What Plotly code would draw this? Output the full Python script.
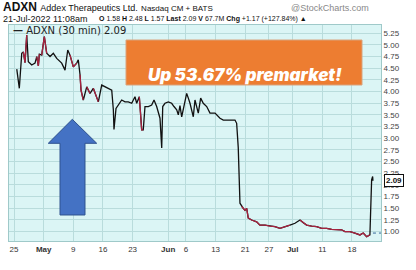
import plotly.graph_objects as go

# ---- data (x = trading-day index from 25-Apr-2022, y = price) ----
days = [0.46, 0.89, 1.30, 1.57, 1.85, 2.14, 2.41, 2.98, 3.54, 3.83, 4.10, 4.27, 4.67, 5.11, 5.51,
        6.07, 6.63, 7.20, 8.04, 8.60, 9.06, 9.44, 10.00, 10.57, 10.84, 11.13, 11.30, 11.59, 11.69,
        12.26, 12.82, 13.37, 13.95, 14.22, 14.79, 15.35, 15.90, 16.48, 16.75, 16.86, 17.20, 17.59,
        18.16, 18.72, 19.27, 19.85, 20.40, 20.69, 21.13, 21.33, 21.53, 21.80, 22.09, 22.65, 23.22,
        23.61, 24.06, 24.62, 24.91, 25.08, 25.46, 26.02, 26.59, 26.98, 27.44, 27.71, 27.99, 28.28,
        28.84, 29.12, 29.43, 29.68, 30.24, 30.52, 31.08, 31.48, 31.92, 32.50, 33.05, 33.90, 34.74,
        35.30, 36.14, 37.27, 37.55, 37.82, 38.11, 38.40, 38.67, 38.95, 39.24, 39.51, 40.08, 40.93,
        41.48, 42.33, 43.17, 44.01, 44.86, 45.41, 45.99, 46.54, 47.39, 48.23, 48.79, 49.36, 50.20,
        51.05, 51.89, 52.73, 53.58, 54.42, 55.26, 55.82, 56.66, 57.50, 58.35, 58.90, 59.48, 60.03,
        60.32, 60.49, 60.54]
prices = [4.48, 4.07, 4.82, 4.85, 4.62, 5.21, 4.64, 4.57, 4.61, 4.75, 4.55, 4.80, 4.78, 5.18, 4.82,
          4.75, 4.82, 4.71, 4.61, 4.46, 4.89, 4.78, 4.53, 4.61, 4.68, 4.36, 4.03, 3.86, 3.82,
          4.10, 3.96, 4.07, 3.89, 3.78, 4.14, 4.10, 4.07, 4.03, 3.61, 3.19, 3.64, 3.71,
          3.82, 3.78, 3.78, 3.75, 3.89, 3.75, 3.89, 3.55, 3.18, 3.18, 3.68, 3.68, 3.71,
          3.82, 3.68, 3.43, 2.79, 3.68, 3.75, 3.78, 3.75, 3.68, 3.61, 3.50, 3.70, 3.46,
          3.82, 3.96, 3.85, 3.75, 3.46, 3.82, 3.54, 3.86, 3.75, 3.68, 3.54, 3.54, 3.43,
          3.39, 3.39, 3.39, 3.32, 2.80, 1.61, 1.54, 1.50, 1.46, 1.50, 1.29, 1.25, 1.21,
          1.14, 1.14, 1.12, 1.11, 1.07, 1.09, 1.11, 1.14, 1.18, 1.25, 1.19, 1.14, 1.12,
          1.11, 1.07, 1.07, 1.05, 1.04, 1.04, 1.00, 1.00, 0.97, 0.93, 0.97, 0.89, 0.93,
          2.11, 2.18, 2.09]
# stretches (first point index, last point index) drawn red (falling price colouring)
red_runs = [(3, 5), (9, 11), (12, 14), (21, 23), (25, 28), (29, 30), (31, 33), (48, 51),
            (87, 101), (103, 119)]
last_price = 2.09
ref_level = 0.97

tick_days = [0, 5, 10, 15, 20, 26, 29, 34, 39, 43, 47, 52, 57]
tick_text = ["25", "<b>May</b>", "9", "16", "23", "<b>Jun</b>", "6", "13", "21", "27", "<b>Jul</b>", "11", "18"]
y_ticks = [1.00, 1.25, 1.50, 1.75, 2.00, 2.25, 2.50, 2.75, 3.00, 3.25, 3.50, 3.75, 4.00, 4.25,
           4.50, 4.75, 5.00, 5.25]

W, H = 416, 270
L, R, T, B = 9, 381, 25, 241


def px(x):
    return (x - L) / (R - L)


def py(y):
    return (B - y) / (B - T)


fig = go.Figure()
fig.add_trace(go.Scatter(x=days, y=prices, mode="lines",
                         line=dict(color="#111111", width=1.3), hoverinfo="skip"))
rx, ry = [], []
for a, b in red_runs:
    rx += days[a:b + 1] + [None]
    ry += prices[a:b + 1] + [None]
fig.add_trace(go.Scatter(x=rx, y=ry, mode="lines",
                         line=dict(color="#a8223f", width=1.3), hoverinfo="skip"))

font = "Liberation Sans, Arial, sans-serif"
grid = "#b9dcdc"
fig.update_layout(
    width=W, height=H, margin=dict(l=L, r=W - R, t=T, b=H - B),
    paper_bgcolor="white", plot_bgcolor="#dbf5f5", showlegend=False,
    font=dict(family=font, size=8, color="#333333"),
    xaxis=dict(range=[-0.85, 61.9], tickmode="array", tickvals=tick_days, ticktext=tick_text,
               showgrid=True, gridcolor=grid, gridwidth=1, zeroline=False, ticks="",
               tickfont=dict(size=8, color="#333333"), showline=True, linecolor="#9fc9c9",
               mirror=True),
    yaxis=dict(range=[0.80, 5.426], side="right", tickmode="array", tickvals=y_ticks,
               tickformat=".2f", showgrid=True, gridcolor=grid, gridwidth=1, zeroline=False,
               ticks="", tickfont=dict(size=8, color="#444444"), showline=True,
               linecolor="#9fc9c9", mirror=True),
)

# dotted reference line and last-price tag
fig.add_shape(type="line", xref="x", yref="y", x0=days[-1], x1=61.9, y0=ref_level, y1=ref_level,
              line=dict(color="#336699", width=1, dash="dot"))
fig.add_annotation(xref="paper", yref="y", x=1.0, y=last_price, xanchor="left", yanchor="middle",
                   text="<b>%.2f</b>" % last_price, showarrow=False, bgcolor="white",
                   bordercolor="#111111", borderwidth=1, borderpad=1,
                   font=dict(size=8, color="#111111"), xshift=3)

# orange banner
fig.add_shape(type="rect", xref="paper", yref="paper", x0=px(126), x1=px(362), y0=py(85), y1=py(40),
              fillcolor="#ed7d31", line=dict(color="#d9a37c", width=1), layer="above")
fig.add_annotation(xref="paper", yref="paper", x=px(245), y=py(63), showarrow=False,
                   text="Up 53.67% premarket!",
                   font=dict(family="Inter, Lato, Open Sans, sans-serif", size=17, color="white",
                             weight=900, style="italic"))

# blue arrow
pts = [(72.3, 119.3), (96.7, 143.3), (85, 143.3), (85, 215), (60, 215), (60, 143.3), (48.3, 143.3)]
path = "M " + " L ".join("%.4f,%.4f" % (px(a), py(b)) for a, b in pts) + " Z"
fig.add_shape(type="path", xref="paper", yref="paper", path=path, fillcolor="#4472c4",
              line=dict(color="#2f528f", width=1), layer="above")

# legend label inside plot
fig.add_annotation(xref="paper", yref="paper", x=px(11), y=py(30.5), xanchor="left", yanchor="middle",
                   showarrow=False, text="<b>—</b> ADXN (30 min) 2.09",
                   font=dict(family="DejaVu Sans, sans-serif", size=10, color="#222222"))

# header lines
fig.add_annotation(xref="paper", yref="paper", x=px(1), y=py(7), xanchor="left", yanchor="middle",
                   showarrow=False,
                   text="<b>ADXN</b> <span style='font-size:9px'>Addex Therapeutics Ltd.</span> "
                        "<span style='font-size:8px'>Nasdaq CM + BATS</span>",
                   font=dict(size=12, color="#111111"))
fig.add_annotation(xref="paper", yref="paper", x=px(371), y=py(8), xanchor="right", yanchor="middle",
                   showarrow=False, text="@StockCharts.com", font=dict(size=9, color="#888888"))
fig.add_annotation(xref="paper", yref="paper", x=px(1), y=py(19.5), xanchor="left", yanchor="middle",
                   showarrow=False, text="21-Jul-2022 11:08am", font=dict(size=9, color="#111111"))
fig.add_annotation(xref="paper", yref="paper", x=px(97), y=py(19.5), xanchor="left", yanchor="middle",
                   showarrow=False,
                   text="<b>O</b> 1.58 <b>H</b> 2.48 <b>L</b> 1.57 <b>Last</b> 2.09 <b>V</b> 67.7M "
                        "<b>Chg</b> +1.17 (+127.84%) ▲",
                   font=dict(size=7, color="#111111"))

fig.write_html("out.html")
